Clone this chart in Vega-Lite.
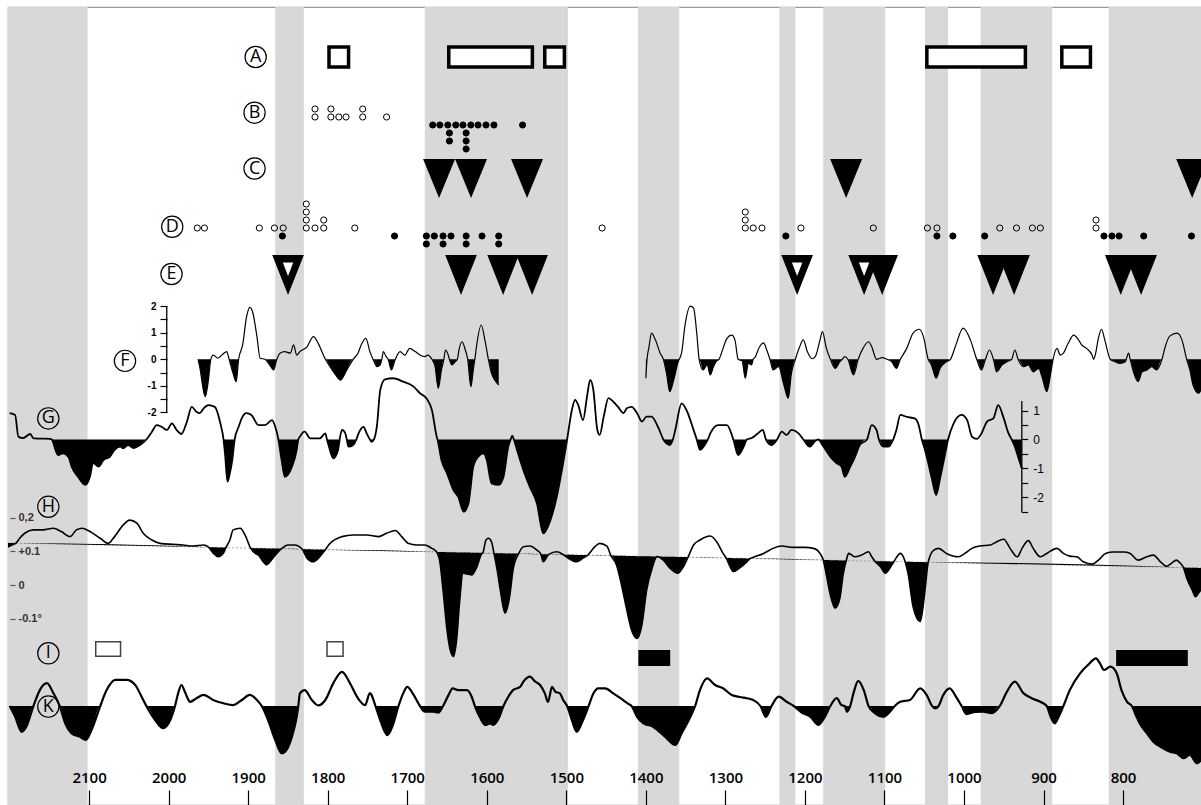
{
"$schema": "https://vega.github.io/schema/vega-lite/v6.json",
"width": 1193, "height": 798,
"autosize": {"type": "none"},
"padding": {"left": 8, "top": 7, "right": 0, "bottom": 0},
"background": "white",
"config": {"view": {"stroke": "#9a9a9a", "strokeWidth": 1.2}, "text": {"font": "Open Sans"}},
"datasets": {
"bands": [{"a":2202,"b":2102},{"a":1866,"b":1830},{"a":1678,"b":1498},{"a":1410,"b":1358},{"a":1232,"b":1212},{"a":1177,"b":1099},{"a":1049,"b":1020},{"a":979,"b":889},{"a":818,"b":702}],
"A": [{"track":"A","a":1798.4,"b":1773.8},{"track":"A","a":1647.8,"b":1542.7},{"track":"A","a":1527.1,"b":1502.4},{"track":"A","a":1046.7,"b":922.8},{"track":"A","a":877,"b":841}],
"C": [{"track":"C","yr":1660},{"track":"C","yr":1619.8},{"track":"C","yr":1549.4},{"track":"C","yr":1148.2},{"track":"C","yr":713.1}],
"E": [{"track":"E","yr":1849.9,"open":true},{"track":"E","yr":1632.4,"open":false},{"track":"E","yr":1579.5,"open":false},{"track":"E","yr":1543,"open":false},{"track":"E","yr":1209.8,"open":true},{"track":"E","yr":1125.6,"open":true},{"track":"E","yr":1102.9,"open":false},{"track":"E","yr":963.4,"open":false},{"track":"E","yr":937,"open":false},{"track":"E","yr":802.9,"open":false},{"track":"E","yr":777.3,"open":false}],
"Iopen": [{"track":"I","a":2091.7,"b":2060.5},{"track":"I","a":1800.9,"b":1780.7}],
"Ifill": [{"track":"If","a":1409.4,"b":1369.4},{"track":"If","a":808.7,"b":718.6}],
"B": [{"yr":1816,"level":0,"kind":"open"},{"yr":1816,"level":1,"kind":"open"},{"yr":1796,"level":0,"kind":"open"},{"yr":1796,"level":1,"kind":"open"},{"yr":1786,"level":0,"kind":"open"},{"yr":1777,"level":0,"kind":"open"},{"yr":1756,"level":0,"kind":"open"},{"yr":1756,"level":1,"kind":"open"},{"yr":1726,"level":0,"kind":"open"},
{"yr":1668,"level":-1,"kind":"filled"},{"yr":1659,"level":-1,"kind":"filled"},{"yr":1649,"level":-1,"kind":"filled"},{"yr":1639,"level":-1,"kind":"filled"},{"yr":1630,"level":-1,"kind":"filled"},{"yr":1620,"level":-1,"kind":"filled"},{"yr":1611,"level":-1,"kind":"filled"},{"yr":1601,"level":-1,"kind":"filled"},{"yr":1591,"level":-1,"kind":"filled"},
{"yr":1647,"level":-2,"kind":"filled"},{"yr":1647,"level":-3,"kind":"filled"},{"yr":1626,"level":-2,"kind":"filled"},{"yr":1626,"level":-3,"kind":"filled"},{"yr":1626,"level":-4,"kind":"filled"},{"yr":1555,"level":-1,"kind":"filled"}],
"D": [{"yr":1964,"level":0,"kind":"open"},{"yr":1955,"level":0,"kind":"open"},{"yr":1886,"level":0,"kind":"open"},{"yr":1867,"level":0,"kind":"open"},{"yr":1856,"level":0,"kind":"open"},{"yr":1827,"level":0,"kind":"open"},{"yr":1827,"level":1,"kind":"open"},{"yr":1827,"level":2,"kind":"open"},{"yr":1827,"level":3,"kind":"open"},{"yr":1816,"level":0,"kind":"open"},{"yr":1805,"level":0,"kind":"open"},{"yr":1805,"level":1,"kind":"open"},{"yr":1766,"level":0,"kind":"open"},{"yr":1455,"level":0,"kind":"open"},{"yr":1275,"level":0,"kind":"open"},{"yr":1275,"level":1,"kind":"open"},{"yr":1275,"level":2,"kind":"open"},{"yr":1265,"level":0,"kind":"open"},{"yr":1254,"level":0,"kind":"open"},{"yr":1205,"level":0,"kind":"open"},{"yr":1114,"level":0,"kind":"open"},{"yr":1046,"level":0,"kind":"open"},{"yr":1034,"level":0,"kind":"open"},{"yr":955,"level":0,"kind":"open"},{"yr":934,"level":0,"kind":"open"},{"yr":914,"level":0,"kind":"open"},{"yr":904,"level":0,"kind":"open"},{"yr":834,"level":0,"kind":"open"},{"yr":834,"level":1,"kind":"open"},
{"yr":1857,"level":-1,"kind":"filled"},{"yr":1716,"level":-1,"kind":"filled"},{"yr":1676,"level":-1,"kind":"filled"},{"yr":1676,"level":-2,"kind":"filled"},{"yr":1666,"level":-1,"kind":"filled"},{"yr":1655,"level":-1,"kind":"filled"},{"yr":1655,"level":-2,"kind":"filled"},{"yr":1645,"level":-1,"kind":"filled"},{"yr":1626,"level":-1,"kind":"filled"},{"yr":1626,"level":-2,"kind":"filled"},{"yr":1606,"level":-1,"kind":"filled"},{"yr":1585,"level":-1,"kind":"filled"},{"yr":1585,"level":-2,"kind":"filled"},{"yr":1224,"level":-1,"kind":"filled"},{"yr":1034,"level":-1,"kind":"filled"},{"yr":1014,"level":-1,"kind":"filled"},{"yr":974,"level":-1,"kind":"filled"},{"yr":824,"level":-1,"kind":"filled"},{"yr":814,"level":-1,"kind":"filled"},{"yr":805,"level":-1,"kind":"filled"},{"yr":774,"level":-1,"kind":"filled"},{"yr":714,"level":-1,"kind":"filled"}],
"F": [
{"seg":1,"yr":1963,"v":0},{"seg":1,"yr":1961,"v":-0.28},{"seg":1,"yr":1954,"v":-1.41},{"seg":1,"yr":1950,"v":-0.78},{"seg":1,"yr":1947,"v":0},{"seg":1,"yr":1944,"v":0.16},{"seg":1,"yr":1938,"v":0.04},{"seg":1,"yr":1932,"v":0.19},{"seg":1,"yr":1927,"v":0.29},{"seg":1,"yr":1924,"v":0},{"seg":1,"yr":1919,"v":-0.53},{"seg":1,"yr":1915,"v":-0.84},{"seg":1,"yr":1912,"v":0},{"seg":1,"yr":1907,"v":0.54},{"seg":1,"yr":1902,"v":1.6},{"seg":1,"yr":1898,"v":1.95},{"seg":1,"yr":1894,"v":1.73},{"seg":1,"yr":1889,"v":0.85},{"seg":1,"yr":1885,"v":0.04},{"seg":1,"yr":1879,"v":0},{"seg":1,"yr":1873,"v":-0.21},{"seg":1,"yr":1868,"v":-0.4},{"seg":1,"yr":1864,"v":0},{"seg":1,"yr":1860,"v":0.23},{"seg":1,"yr":1854,"v":0.29},{"seg":1,"yr":1847,"v":0.23},{"seg":1,"yr":1843,"v":0.54},{"seg":1,"yr":1839,"v":0.16},{"seg":1,"yr":1835,"v":0.29},{"seg":1,"yr":1826,"v":0.47},{"seg":1,"yr":1818,"v":0.85},{"seg":1,"yr":1812,"v":0.6},{"seg":1,"yr":1803,"v":0},{"seg":1,"yr":1797,"v":-0.28},{"seg":1,"yr":1790,"v":-0.59},{"seg":1,"yr":1784,"v":-0.78},{"seg":1,"yr":1776,"v":-0.4},{"seg":1,"yr":1768,"v":0},{"seg":1,"yr":1762,"v":0.23},{"seg":1,"yr":1757,"v":0.6},{"seg":1,"yr":1752,"v":0.79},{"seg":1,"yr":1747,"v":0.29},{"seg":1,"yr":1743,"v":0},{"seg":1,"yr":1738,"v":-0.28},{"seg":1,"yr":1734,"v":-0.21},{"seg":1,"yr":1732,"v":0},{"seg":1,"yr":1730,"v":0.29},{"seg":1,"yr":1727,"v":0.12},{"seg":1,"yr":1724,"v":0},{"seg":1,"yr":1720,"v":-0.4},{"seg":1,"yr":1715,"v":0},{"seg":1,"yr":1709,"v":0.29},{"seg":1,"yr":1703,"v":0.16},{"seg":1,"yr":1697,"v":0.41},{"seg":1,"yr":1690,"v":0.29},{"seg":1,"yr":1684,"v":0.16},{"seg":1,"yr":1678,"v":0.1},{"seg":1,"yr":1674,"v":0.16},{"seg":1,"yr":1669,"v":0},{"seg":1,"yr":1665,"v":-0.28},{"seg":1,"yr":1661,"v":-1.09},{"seg":1,"yr":1657,"v":-0.4},{"seg":1,"yr":1654,"v":0},{"seg":1,"yr":1652,"v":0.35},{"seg":1,"yr":1648.5,"v":0.16},{"seg":1,"yr":1647,"v":0},{"seg":1,"yr":1644,"v":-0.21},{"seg":1,"yr":1640,"v":-0.1},{"seg":1,"yr":1637,"v":0},{"seg":1,"yr":1635,"v":0.35},{"seg":1,"yr":1631,"v":0.66},{"seg":1,"yr":1627,"v":0.35},{"seg":1,"yr":1624,"v":0},{"seg":1,"yr":1620,"v":-1.03},{"seg":1,"yr":1617,"v":-0.4},{"seg":1,"yr":1615,"v":0},{"seg":1,"yr":1613,"v":0.47},{"seg":1,"yr":1607,"v":1.29},{"seg":1,"yr":1602,"v":0.66},{"seg":1,"yr":1598,"v":0},{"seg":1,"yr":1594,"v":-0.53},{"seg":1,"yr":1590,"v":-0.78},{"seg":1,"yr":1585,"v":-0.97},
{"seg":2,"yr":1400,"v":-0.71},{"seg":2,"yr":1398.5,"v":0},{"seg":2,"yr":1396,"v":0.47},{"seg":2,"yr":1393,"v":0.98},{"seg":2,"yr":1388,"v":0.73},{"seg":2,"yr":1382,"v":0.23},{"seg":2,"yr":1378,"v":0},{"seg":2,"yr":1374,"v":-0.53},{"seg":2,"yr":1370,"v":-1.22},{"seg":2,"yr":1365,"v":-0.78},{"seg":2,"yr":1359,"v":-0.06},{"seg":2,"yr":1358,"v":0},{"seg":2,"yr":1355,"v":0.25},{"seg":2,"yr":1351,"v":1.23},{"seg":2,"yr":1344,"v":2.0},{"seg":2,"yr":1340,"v":1.92},{"seg":2,"yr":1336,"v":0.98},{"seg":2,"yr":1333,"v":0},{"seg":2,"yr":1328,"v":-0.4},{"seg":2,"yr":1323,"v":-0.21},{"seg":2,"yr":1319,"v":-0.59},{"seg":2,"yr":1315,"v":-0.28},{"seg":2,"yr":1311,"v":-0.06},{"seg":2,"yr":1308,"v":0},{"seg":2,"yr":1305,"v":0.23},{"seg":2,"yr":1298,"v":0.79},{"seg":2,"yr":1292,"v":0.91},{"seg":2,"yr":1288,"v":0.73},{"seg":2,"yr":1284,"v":0},{"seg":2,"yr":1279,"v":-0.06},{"seg":2,"yr":1275,"v":-0.71},{"seg":2,"yr":1271,"v":-0.15},{"seg":2,"yr":1267,"v":-0.21},{"seg":2,"yr":1265,"v":0},{"seg":2,"yr":1263,"v":0.06},{"seg":2,"yr":1257,"v":0.47},{"seg":2,"yr":1252,"v":0.62},{"seg":2,"yr":1248,"v":0.35},{"seg":2,"yr":1244,"v":0},{"seg":2,"yr":1240,"v":-0.4},{"seg":2,"yr":1233,"v":-0.28},{"seg":2,"yr":1227,"v":-0.9},{"seg":2,"yr":1221,"v":-1.47},{"seg":2,"yr":1217,"v":-0.53},{"seg":2,"yr":1212,"v":0},{"seg":2,"yr":1207,"v":0.44},{"seg":2,"yr":1202,"v":0.73},{"seg":2,"yr":1197,"v":0.29},{"seg":2,"yr":1191,"v":0.02},{"seg":2,"yr":1187,"v":0.1},{"seg":2,"yr":1181,"v":0.73},{"seg":2,"yr":1178,"v":1.04},{"seg":2,"yr":1173,"v":0.41},{"seg":2,"yr":1168,"v":0},{"seg":2,"yr":1162,"v":-0.34},{"seg":2,"yr":1156,"v":-0.09},{"seg":2,"yr":1153,"v":0},{"seg":2,"yr":1150,"v":0.1},{"seg":2,"yr":1146,"v":0},{"seg":2,"yr":1139,"v":-0.59},{"seg":2,"yr":1133,"v":0},{"seg":2,"yr":1127,"v":0.41},{"seg":2,"yr":1120,"v":0.66},{"seg":2,"yr":1116,"v":0.47},{"seg":2,"yr":1110,"v":0},{"seg":2,"yr":1103,"v":0.06},{"seg":2,"yr":1097,"v":0},{"seg":2,"yr":1091,"v":-0.09},{"seg":2,"yr":1085,"v":-0.34},{"seg":2,"yr":1080,"v":0},{"seg":2,"yr":1072,"v":0.41},{"seg":2,"yr":1064,"v":0.98},{"seg":2,"yr":1056,"v":1.13},{"seg":2,"yr":1051,"v":0.85},{"seg":2,"yr":1045,"v":0},{"seg":2,"yr":1041,"v":-0.21},{"seg":2,"yr":1035,"v":-0.71},{"seg":2,"yr":1030,"v":-0.34},{"seg":2,"yr":1022,"v":-0.09},{"seg":2,"yr":1017,"v":0},{"seg":2,"yr":1011,"v":0.47},{"seg":2,"yr":1001,"v":1.17},{"seg":2,"yr":992,"v":0.73},{"seg":2,"yr":984,"v":0},{"seg":2,"yr":978,"v":-0.4},{"seg":2,"yr":973,"v":0},{"seg":2,"yr":968,"v":0.35},{"seg":2,"yr":963,"v":0},{"seg":2,"yr":959,"v":-0.47},{"seg":2,"yr":952,"v":-0.21},{"seg":2,"yr":946,"v":-0.09},{"seg":2,"yr":940,"v":0},{"seg":2,"yr":936,"v":0.35},{"seg":2,"yr":932,"v":0},{"seg":2,"yr":925,"v":-0.28},{"seg":2,"yr":919,"v":-0.21},{"seg":2,"yr":913,"v":-0.47},{"seg":2,"yr":906,"v":-0.34},{"seg":2,"yr":902,"v":-0.65},{"seg":2,"yr":896,"v":-1.22},{"seg":2,"yr":891,"v":-0.53},{"seg":2,"yr":888,"v":0},{"seg":2,"yr":883,"v":0.41},{"seg":2,"yr":879,"v":0.16},{"seg":2,"yr":875,"v":0.23},{"seg":2,"yr":869,"v":0.6},{"seg":2,"yr":862,"v":0.91},{"seg":2,"yr":856,"v":0.73},{"seg":2,"yr":852,"v":0.54},{"seg":2,"yr":846,"v":0.41},{"seg":2,"yr":839,"v":0.16},{"seg":2,"yr":837,"v":0},{"seg":2,"yr":835,"v":0.16},{"seg":2,"yr":831,"v":0.79},{"seg":2,"yr":827,"v":1.13},{"seg":2,"yr":823,"v":0.73},{"seg":2,"yr":816,"v":0},{"seg":2,"yr":810,"v":-0.09},{"seg":2,"yr":804,"v":-0.15},{"seg":2,"yr":797,"v":-0.09},{"seg":2,"yr":796,"v":0},{"seg":2,"yr":793,"v":0.23},{"seg":2,"yr":791,"v":0},{"seg":2,"yr":787,"v":-0.47},{"seg":2,"yr":781,"v":-0.84},{"seg":2,"yr":776,"v":-0.47},{"seg":2,"yr":770,"v":-0.4},{"seg":2,"yr":764,"v":-0.28},{"seg":2,"yr":758,"v":-0.4},{"seg":2,"yr":751,"v":0},{"seg":2,"yr":747,"v":0.47},{"seg":2,"yr":741,"v":0.88},{"seg":2,"yr":732,"v":0.98},{"seg":2,"yr":726,"v":0.73},{"seg":2,"yr":720,"v":0},{"seg":2,"yr":716,"v":-0.4},{"seg":2,"yr":712,"v":-0.97},{"seg":2,"yr":705,"v":-1.28},{"seg":2,"yr":702,"v":-1.15}],
"G": [{"yr":2200,"v":0.91},{"yr":2193,"v":0.85},{"yr":2189,"v":0.1},{"yr":2183,"v":0.05},{"yr":2174,"v":0.19},{"yr":2170,"v":0.04},{"yr":2160,"v":0.03},{"yr":2149,"v":0.02},{"yr":2147,"v":0},{"yr":2139,"v":-0.54},{"yr":2133,"v":-0.48},{"yr":2126,"v":-0.6},{"yr":2122,"v":-0.94},{"yr":2114,"v":-1.29},{"yr":2105,"v":-1.57},{"yr":2099,"v":-1.29},{"yr":2095,"v":-0.81},{"yr":2088,"v":-0.94},{"yr":2082,"v":-0.71},{"yr":2074,"v":-0.6},{"yr":2068,"v":-0.36},{"yr":2061,"v":-0.25},{"yr":2057,"v":-0.3},{"yr":2051,"v":-0.19},{"yr":2044,"v":-0.3},{"yr":2036,"v":-0.19},{"yr":2028,"v":0},{"yr":2021,"v":0.27},{"yr":2015,"v":0.5},{"yr":2009,"v":0.44},{"yr":2002,"v":0.33},{"yr":1996,"v":0.56},{"yr":1990,"v":0.33},{"yr":1984,"v":0.19},{"yr":1977,"v":0.62},{"yr":1971,"v":1.13},{"yr":1965,"v":0.96},{"yr":1961,"v":0.91},{"yr":1956,"v":1.08},{"yr":1950,"v":1.19},{"yr":1942,"v":1.13},{"yr":1935,"v":0.56},{"yr":1931,"v":0},{"yr":1929,"v":-0.54},{"yr":1926,"v":-1.46},{"yr":1923,"v":-1.16},{"yr":1920,"v":-0.71},{"yr":1917,"v":0},{"yr":1912,"v":0.44},{"yr":1908,"v":0.74},{"yr":1902,"v":0.91},{"yr":1896,"v":0.85},{"yr":1887,"v":0.5},{"yr":1879,"v":0.5},{"yr":1870,"v":0.67},{"yr":1866,"v":0.44},{"yr":1862,"v":0},{"yr":1858,"v":-0.71},{"yr":1854,"v":-1.29},{"yr":1845,"v":-0.94},{"yr":1839,"v":-0.36},{"yr":1837,"v":0},{"yr":1835,"v":0.1},{"yr":1829,"v":0.27},{"yr":1822,"v":0.04},{"yr":1810,"v":0.04},{"yr":1803,"v":0.21},{"yr":1801,"v":0},{"yr":1799,"v":-0.19},{"yr":1793,"v":-0.65},{"yr":1787,"v":-0.36},{"yr":1785,"v":0},{"yr":1782,"v":0.33},{"yr":1778,"v":0.22},{"yr":1776,"v":0},{"yr":1774,"v":-0.25},{"yr":1768,"v":-0.19},{"yr":1764,"v":0},{"yr":1762,"v":0.16},{"yr":1755,"v":0.44},{"yr":1751,"v":0.21},{"yr":1747,"v":0},{"yr":1745,"v":-0.08},{"yr":1742,"v":0},{"yr":1738,"v":0.5},{"yr":1734,"v":1.71},{"yr":1728,"v":2.08},{"yr":1718,"v":2.12},{"yr":1705,"v":2.0},{"yr":1692,"v":1.83},{"yr":1684,"v":1.6},{"yr":1676,"v":1.43},{"yr":1669,"v":1.02},{"yr":1663,"v":0.1},{"yr":1662,"v":0},{"yr":1657,"v":-0.71},{"yr":1650,"v":-1.17},{"yr":1642,"v":-1.75},{"yr":1636,"v":-1.98},{"yr":1629,"v":-2.5},{"yr":1623,"v":-2.21},{"yr":1617,"v":-0.94},{"yr":1611,"v":-0.6},{"yr":1604,"v":-0.48},{"yr":1600,"v":-0.71},{"yr":1594,"v":-1.52},{"yr":1585,"v":-1.57},{"yr":1579,"v":-1.29},{"yr":1573,"v":-0.25},{"yr":1570,"v":0},{"yr":1568,"v":0.13},{"yr":1566,"v":0},{"yr":1562,"v":-0.36},{"yr":1554,"v":-1.06},{"yr":1546,"v":-1.63},{"yr":1537,"v":-2.21},{"yr":1529,"v":-3.25},{"yr":1520,"v":-2.79},{"yr":1512,"v":-1.98},{"yr":1504,"v":-0.82},{"yr":1499,"v":0},{"yr":1493,"v":1.02},{"yr":1489,"v":1.37},{"yr":1485,"v":1.19},{"yr":1479,"v":0.67},{"yr":1474,"v":1.48},{"yr":1470,"v":2.06},{"yr":1466,"v":1.71},{"yr":1461,"v":0.33},{"yr":1458,"v":0.16},{"yr":1453,"v":0.79},{"yr":1447,"v":1.43},{"yr":1441,"v":1.31},{"yr":1435,"v":1.13},{"yr":1428,"v":0.91},{"yr":1424,"v":1.08},{"yr":1418,"v":1.13},{"yr":1411,"v":0.91},{"yr":1405,"v":0.62},{"yr":1399,"v":0.79},{"yr":1393,"v":0.79},{"yr":1384,"v":0.39},{"yr":1378,"v":0},{"yr":1373,"v":-0.16},{"yr":1370,"v":-0.19},{"yr":1366,"v":0},{"yr":1363,"v":0.33},{"yr":1355,"v":1.25},{"yr":1349,"v":1.02},{"yr":1340,"v":0.33},{"yr":1336,"v":0},{"yr":1332,"v":-0.36},{"yr":1326,"v":-0.19},{"yr":1322,"v":0},{"yr":1319,"v":0.21},{"yr":1309,"v":0.5},{"yr":1298,"v":0.5},{"yr":1290,"v":0},{"yr":1284,"v":-0.54},{"yr":1277,"v":-0.25},{"yr":1273,"v":0},{"yr":1267,"v":0.05},{"yr":1260,"v":0.19},{"yr":1253,"v":0.33},{"yr":1249,"v":0},{"yr":1242,"v":-0.19},{"yr":1235,"v":0},{"yr":1229,"v":0.27},{"yr":1223,"v":0.16},{"yr":1217,"v":0.33},{"yr":1208,"v":0.21},{"yr":1202,"v":0},{"yr":1194,"v":-0.25},{"yr":1187,"v":-0.05},{"yr":1183,"v":0},{"yr":1178,"v":-0.19},{"yr":1168,"v":-0.6},{"yr":1160,"v":-0.82},{"yr":1154,"v":-0.94},{"yr":1150,"v":-1.29},{"yr":1143,"v":-0.94},{"yr":1137,"v":-0.6},{"yr":1131,"v":-0.19},{"yr":1122,"v":0},{"yr":1116,"v":0.5},{"yr":1110,"v":0.33},{"yr":1107,"v":0},{"yr":1101,"v":-0.25},{"yr":1095,"v":-0.25},{"yr":1089,"v":0},{"yr":1085,"v":0.33},{"yr":1080,"v":0.85},{"yr":1072,"v":0.78},{"yr":1062,"v":0.73},{"yr":1057,"v":0.5},{"yr":1053,"v":0},{"yr":1049,"v":-0.36},{"yr":1045,"v":-0.81},{"yr":1040,"v":-1.4},{"yr":1035,"v":-1.92},{"yr":1030,"v":-1.33},{"yr":1024,"v":-0.54},{"yr":1020,"v":0},{"yr":1013,"v":0.56},{"yr":1003,"v":0.85},{"yr":996,"v":0.67},{"yr":990,"v":0.1},{"yr":984,"v":0.02},{"yr":978,"v":0.21},{"yr":971,"v":0.62},{"yr":963,"v":0.73},{"yr":957,"v":1.19},{"yr":950,"v":0.73},{"yr":944,"v":0.21},{"yr":940,"v":0},{"yr":936,"v":-0.25},{"yr":932,"v":-0.6},{"yr":927.3,"v":-1.0}],
"H": [{"yr":2202,"v":0.113,"t":0.125},{"yr":2197,"v":0.119,"t":0.1248},{"yr":2192,"v":0.1245,"t":0.1245},{"yr":2187,"v":0.14,"t":0.1243},{"yr":2181,"v":0.154,"t":0.124},{"yr":2170,"v":0.164,"t":0.1234},{"yr":2158,"v":0.164,"t":0.1228},{"yr":2145,"v":0.169,"t":0.1222},{"yr":2135,"v":0.159,"t":0.1217},{"yr":2124,"v":0.144,"t":0.1211},{"yr":2116,"v":0.164,"t":0.1207},{"yr":2109,"v":0.169,"t":0.1204},{"yr":2099,"v":0.159,"t":0.1199},{"yr":2086,"v":0.139,"t":0.1193},{"yr":2076,"v":0.124,"t":0.1188},{"yr":2068,"v":0.144,"t":0.1184},{"yr":2057,"v":0.179,"t":0.1178},{"yr":2049,"v":0.193,"t":0.1174},{"yr":2040,"v":0.184,"t":0.117},{"yr":2032,"v":0.154,"t":0.1166},{"yr":2021,"v":0.134,"t":0.116},{"yr":2011,"v":0.124,"t":0.1155},{"yr":1994,"v":0.121,"t":0.1147},{"yr":1982,"v":0.119,"t":0.1141},{"yr":1969,"v":0.116,"t":0.1135},{"yr":1956,"v":0.119,"t":0.1128},{"yr":1950,"v":0.1125,"t":0.1125},{"yr":1944,"v":0.095,"t":0.1122},{"yr":1938,"v":0.084,"t":0.1119},{"yr":1931,"v":0.095,"t":0.1116},{"yr":1928,"v":0.1114,"t":0.1114},{"yr":1923,"v":0.134,"t":0.1112},{"yr":1919,"v":0.164,"t":0.111},{"yr":1910,"v":0.169,"t":0.1105},{"yr":1904,"v":0.149,"t":0.1102},{"yr":1897,"v":0.1099,"t":0.1099},{"yr":1891,"v":0.094,"t":0.1096},{"yr":1887,"v":0.089,"t":0.1094},{"yr":1881,"v":0.069,"t":0.1091},{"yr":1877,"v":0.06,"t":0.1089},{"yr":1871,"v":0.074,"t":0.1086},{"yr":1864,"v":0.094,"t":0.1083},{"yr":1858,"v":0.108,"t":0.108},{"yr":1850,"v":0.119,"t":0.1076},{"yr":1841,"v":0.119,"t":0.1071},{"yr":1835,"v":0.113,"t":0.1068},{"yr":1832,"v":0.1067,"t":0.1067},{"yr":1826,"v":0.08,"t":0.1064},{"yr":1818,"v":0.069,"t":0.106},{"yr":1810,"v":0.084,"t":0.1056},{"yr":1803,"v":0.1052,"t":0.1052},{"yr":1797,"v":0.124,"t":0.105},{"yr":1782,"v":0.144,"t":0.1042},{"yr":1768,"v":0.149,"t":0.1035},{"yr":1751,"v":0.149,"t":0.1027},{"yr":1736,"v":0.144,"t":0.1019},{"yr":1726,"v":0.154,"t":0.1014},{"yr":1715,"v":0.162,"t":0.1009},{"yr":1707,"v":0.144,"t":0.1005},{"yr":1699,"v":0.124,"t":0.1001},{"yr":1688,"v":0.119,"t":0.0996},{"yr":1678,"v":0.119,"t":0.0991},{"yr":1669,"v":0.109,"t":0.0986},{"yr":1663,"v":0.0983,"t":0.0983},{"yr":1659,"v":0.069,"t":0.0981},{"yr":1655,"v":-0.015,"t":0.0979},{"yr":1650,"v":-0.134,"t":0.0977},{"yr":1646,"v":-0.193,"t":0.0975},{"yr":1642,"v":-0.213,"t":0.0973},{"yr":1638,"v":-0.164,"t":0.0971},{"yr":1634,"v":-0.045,"t":0.0969},{"yr":1630,"v":0.035,"t":0.0967},{"yr":1625,"v":0.033,"t":0.0964},{"yr":1619,"v":0.03,"t":0.0961},{"yr":1613,"v":0.051,"t":0.0958},{"yr":1606,"v":0.094,"t":0.0955},{"yr":1605,"v":0.0954,"t":0.0954},{"yr":1601,"v":0.134,"t":0.0952},{"yr":1598,"v":0.139,"t":0.0951},{"yr":1594,"v":0.128,"t":0.0949},{"yr":1591,"v":0.0947,"t":0.0947},{"yr":1587,"v":0.045,"t":0.0946},{"yr":1583,"v":-0.015,"t":0.0944},{"yr":1577,"v":-0.084,"t":0.0941},{"yr":1571,"v":-0.03,"t":0.0938},{"yr":1567,"v":0.045,"t":0.0936},{"yr":1560,"v":0.0932,"t":0.0932},{"yr":1554,"v":0.114,"t":0.0929},{"yr":1546,"v":0.116,"t":0.0925},{"yr":1537,"v":0.104,"t":0.0921},{"yr":1532,"v":0.0918,"t":0.0918},{"yr":1529,"v":0.069,"t":0.0917},{"yr":1522,"v":0.0913,"t":0.0913},{"yr":1512,"v":0.099,"t":0.0908},{"yr":1504,"v":0.0904,"t":0.0904},{"yr":1498,"v":0.08,"t":0.0901},{"yr":1487,"v":0.069,"t":0.0896},{"yr":1479,"v":0.08,"t":0.0892},{"yr":1473,"v":0.0889,"t":0.0889},{"yr":1464,"v":0.114,"t":0.0885},{"yr":1458,"v":0.124,"t":0.0882},{"yr":1449,"v":0.116,"t":0.0877},{"yr":1444,"v":0.0875,"t":0.0875},{"yr":1437,"v":0.06,"t":0.0871},{"yr":1432,"v":0.015,"t":0.0869},{"yr":1424,"v":-0.074,"t":0.0865},{"yr":1418,"v":-0.134,"t":0.0862},{"yr":1411,"v":-0.159,"t":0.0858},{"yr":1405,"v":-0.119,"t":0.0855},{"yr":1399,"v":-0.015,"t":0.0852},{"yr":1392,"v":0.051,"t":0.0849},{"yr":1386,"v":0.0846,"t":0.0846},{"yr":1378,"v":0.074,"t":0.0842},{"yr":1370,"v":0.051,"t":0.0838},{"yr":1360,"v":0.035,"t":0.0833},{"yr":1353,"v":0.054,"t":0.083},{"yr":1347,"v":0.0827,"t":0.0827},{"yr":1340,"v":0.119,"t":0.0823},{"yr":1332,"v":0.134,"t":0.0819},{"yr":1319,"v":0.146,"t":0.0813},{"yr":1311,"v":0.129,"t":0.0809},{"yr":1303,"v":0.094,"t":0.0805},{"yr":1299,"v":0.0803,"t":0.0803},{"yr":1294,"v":0.054,"t":0.0801},{"yr":1290,"v":0.04,"t":0.0799},{"yr":1282,"v":0.051,"t":0.0795},{"yr":1273,"v":0.069,"t":0.079},{"yr":1269,"v":0.0788,"t":0.0788},{"yr":1263,"v":0.084,"t":0.0785},{"yr":1252,"v":0.094,"t":0.078},{"yr":1248,"v":0.099,"t":0.0778},{"yr":1240,"v":0.109,"t":0.0774},{"yr":1229,"v":0.116,"t":0.0769},{"yr":1215,"v":0.112,"t":0.0762},{"yr":1200,"v":0.112,"t":0.0754},{"yr":1189,"v":0.109,"t":0.0749},{"yr":1181,"v":0.094,"t":0.0745},{"yr":1177,"v":0.0743,"t":0.0743},{"yr":1173,"v":0.03,"t":0.0741},{"yr":1168,"v":-0.03,"t":0.0738},{"yr":1162,"v":-0.069,"t":0.0735},{"yr":1156,"v":-0.039,"t":0.0732},{"yr":1152,"v":0.03,"t":0.073},{"yr":1148,"v":0.0728,"t":0.0728},{"yr":1145,"v":0.094,"t":0.0727},{"yr":1137,"v":0.084,"t":0.0723},{"yr":1129,"v":0.089,"t":0.0719},{"yr":1120,"v":0.099,"t":0.0714},{"yr":1116,"v":0.084,"t":0.0712},{"yr":1112,"v":0.071,"t":0.071},{"yr":1105,"v":0.054,"t":0.0707},{"yr":1099,"v":0.035,"t":0.0704},{"yr":1093,"v":0.051,"t":0.0701},{"yr":1088,"v":0.0699,"t":0.0699},{"yr":1080,"v":0.094,"t":0.0695},{"yr":1074,"v":0.0692,"t":0.0692},{"yr":1070,"v":0.03,"t":0.069},{"yr":1064,"v":-0.065,"t":0.0687},{"yr":1055,"v":-0.109,"t":0.0682},{"yr":1049,"v":-0.015,"t":0.0679},{"yr":1045,"v":0.0677,"t":0.0677},{"yr":1038,"v":0.104,"t":0.0674},{"yr":1032,"v":0.109,"t":0.0671},{"yr":1022,"v":0.094,"t":0.0666},{"yr":1007,"v":0.084,"t":0.0658},{"yr":999,"v":0.094,"t":0.0655},{"yr":990,"v":0.109,"t":0.065},{"yr":980,"v":0.116,"t":0.0645},{"yr":967,"v":0.119,"t":0.0639},{"yr":961,"v":0.126,"t":0.0636},{"yr":950,"v":0.136,"t":0.063},{"yr":942,"v":0.109,"t":0.0626},{"yr":933,"v":0.084,"t":0.0622},{"yr":927,"v":0.109,"t":0.0619},{"yr":919,"v":0.132,"t":0.0615},{"yr":913,"v":0.109,"t":0.0612},{"yr":904,"v":0.084,"t":0.0607},{"yr":896,"v":0.094,"t":0.0604},{"yr":883,"v":0.109,"t":0.0597},{"yr":875,"v":0.094,"t":0.0593},{"yr":867,"v":0.086,"t":0.0589},{"yr":858,"v":0.084,"t":0.0585},{"yr":850,"v":0.069,"t":0.0581},{"yr":839,"v":0.062,"t":0.0575},{"yr":831,"v":0.074,"t":0.0571},{"yr":822,"v":0.094,"t":0.0567},{"yr":812,"v":0.098,"t":0.0562},{"yr":799,"v":0.098,"t":0.0555},{"yr":791,"v":0.094,"t":0.0552},{"yr":781,"v":0.074,"t":0.0547},{"yr":770,"v":0.084,"t":0.0541},{"yr":762,"v":0.089,"t":0.0537},{"yr":753,"v":0.069,"t":0.0533},{"yr":745,"v":0.056,"t":0.0529},{"yr":739,"v":0.065,"t":0.0526},{"yr":733,"v":0.074,"t":0.0523},{"yr":728,"v":0.065,"t":0.052},{"yr":724,"v":0.0518,"t":0.0518},{"yr":720,"v":0.021,"t":0.0516},{"yr":713,"v":-0.015,"t":0.0513},{"yr":709,"v":-0.035,"t":0.0511},{"yr":705,"v":-0.024,"t":0.0509},{"yr":702,"v":-0.015,"t":0.0507}],
"K": [{"yr":2200,"v":0},{"yr":2193,"v":-0.36},{"yr":2185,"v":-0.86},{"yr":2179,"v":-0.69},{"yr":2170,"v":0},{"yr":2162,"v":0.53},{"yr":2153,"v":0.76},{"yr":2145,"v":0.43},{"yr":2137,"v":0},{"yr":2130,"v":-0.58},{"yr":2122,"v":-0.91},{"yr":2112,"v":-1.02},{"yr":2104,"v":-1.13},{"yr":2097,"v":-0.8},{"yr":2086,"v":0},{"yr":2078,"v":0.53},{"yr":2067,"v":0.87},{"yr":2053,"v":0.87},{"yr":2042,"v":0.7},{"yr":2034,"v":0.31},{"yr":2028,"v":0},{"yr":2017,"v":-0.47},{"yr":2007,"v":-0.74},{"yr":1998,"v":-0.47},{"yr":1992,"v":0},{"yr":1988,"v":0.43},{"yr":1984,"v":0.7},{"yr":1979,"v":0.43},{"yr":1973,"v":0.14},{"yr":1965,"v":0.26},{"yr":1956,"v":0.37},{"yr":1944,"v":0.2},{"yr":1931,"v":0.09},{"yr":1919,"v":0.03},{"yr":1908,"v":0.2},{"yr":1898,"v":0.37},{"yr":1889,"v":0.2},{"yr":1883,"v":0},{"yr":1875,"v":-0.47},{"yr":1866,"v":-1.13},{"yr":1858,"v":-1.58},{"yr":1852,"v":-1.47},{"yr":1845,"v":-1.02},{"yr":1839,"v":-0.36},{"yr":1837,"v":0},{"yr":1835,"v":0.42},{"yr":1829,"v":0.53},{"yr":1820,"v":0.2},{"yr":1812,"v":0.02},{"yr":1803,"v":0.2},{"yr":1793,"v":0.76},{"yr":1782,"v":1.14},{"yr":1772,"v":0.76},{"yr":1762,"v":0.26},{"yr":1753,"v":0.03},{"yr":1747,"v":0.43},{"yr":1745,"v":0.37},{"yr":1740,"v":0},{"yr":1734,"v":-0.47},{"yr":1725,"v":-0.97},{"yr":1718,"v":-0.63},{"yr":1711,"v":0},{"yr":1705,"v":0.43},{"yr":1700,"v":0.64},{"yr":1692,"v":0.37},{"yr":1684,"v":0},{"yr":1678,"v":-0.19},{"yr":1667,"v":-0.19},{"yr":1661,"v":-0.22},{"yr":1655,"v":0},{"yr":1648,"v":0.37},{"yr":1643,"v":0.59},{"yr":1636,"v":0.53},{"yr":1625,"v":0.53},{"yr":1619,"v":0.31},{"yr":1615,"v":0},{"yr":1608,"v":-0.41},{"yr":1602,"v":-0.63},{"yr":1596,"v":-0.58},{"yr":1592,"v":-0.63},{"yr":1585,"v":-0.41},{"yr":1579,"v":0},{"yr":1573,"v":0.31},{"yr":1567,"v":0.53},{"yr":1558,"v":0.64},{"yr":1554,"v":0.81},{"yr":1546,"v":0.98},{"yr":1539,"v":0.81},{"yr":1533,"v":0.7},{"yr":1527,"v":0.42},{"yr":1523,"v":0.14},{"yr":1518,"v":0.64},{"yr":1514,"v":0.48},{"yr":1508,"v":0.42},{"yr":1504,"v":0.2},{"yr":1499,"v":0},{"yr":1493,"v":-0.47},{"yr":1487,"v":-0.86},{"yr":1479,"v":-0.47},{"yr":1472,"v":0},{"yr":1466,"v":0.42},{"yr":1460,"v":0.59},{"yr":1451,"v":0.59},{"yr":1441,"v":0.42},{"yr":1432,"v":0.26},{"yr":1422,"v":0.07},{"yr":1418,"v":0},{"yr":1411,"v":-0.36},{"yr":1403,"v":-0.58},{"yr":1391,"v":-0.69},{"yr":1376,"v":-1.02},{"yr":1363,"v":-1.3},{"yr":1355,"v":-0.91},{"yr":1344,"v":-0.36},{"yr":1338,"v":0},{"yr":1332,"v":0.53},{"yr":1323,"v":0.92},{"yr":1313,"v":0.7},{"yr":1303,"v":0.59},{"yr":1292,"v":0.37},{"yr":1282,"v":0.3},{"yr":1273,"v":0.26},{"yr":1265,"v":0.2},{"yr":1256,"v":0},{"yr":1249,"v":-0.36},{"yr":1242,"v":0},{"yr":1233,"v":0.31},{"yr":1223,"v":0.14},{"yr":1214,"v":0},{"yr":1204,"v":-0.22},{"yr":1193,"v":-0.36},{"yr":1183,"v":-0.63},{"yr":1175,"v":-0.36},{"yr":1168,"v":0},{"yr":1160,"v":0.26},{"yr":1154,"v":0.03},{"yr":1150,"v":0},{"yr":1147,"v":-0.19},{"yr":1143,"v":0},{"yr":1139,"v":0.42},{"yr":1133,"v":0.84},{"yr":1126,"v":0.53},{"yr":1120,"v":0},{"yr":1112,"v":-0.24},{"yr":1101,"v":-0.36},{"yr":1093,"v":-0.19},{"yr":1087,"v":0},{"yr":1080,"v":0.14},{"yr":1068,"v":0.2},{"yr":1055,"v":0.59},{"yr":1047,"v":0.37},{"yr":1040,"v":0},{"yr":1036,"v":-0.08},{"yr":1032,"v":0},{"yr":1026,"v":0.37},{"yr":1018,"v":0.59},{"yr":1009,"v":0.26},{"yr":1003,"v":0},{"yr":997,"v":-0.27},{"yr":986,"v":-0.2},{"yr":976,"v":-0.19},{"yr":965,"v":-0.24},{"yr":955,"v":0},{"yr":946,"v":0.48},{"yr":936,"v":0.81},{"yr":925,"v":0.42},{"yr":915,"v":0.26},{"yr":904,"v":0.14},{"yr":896,"v":0},{"yr":891,"v":-0.36},{"yr":886,"v":-0.58},{"yr":881,"v":-0.36},{"yr":875,"v":0},{"yr":867,"v":0.53},{"yr":854,"v":1.09},{"yr":844,"v":1.37},{"yr":834,"v":1.59},{"yr":829,"v":1.42},{"yr":824,"v":1.2},{"yr":816,"v":1.31},{"yr":808,"v":1.09},{"yr":802,"v":0.53},{"yr":795,"v":0.14},{"yr":789,"v":0},{"yr":783,"v":-0.36},{"yr":779,"v":-0.58},{"yr":770,"v":-0.91},{"yr":762,"v":-1.19},{"yr":753,"v":-1.36},{"yr":741,"v":-1.52},{"yr":732,"v":-1.58},{"yr":724,"v":-1.74},{"yr":716,"v":-1.63},{"yr":707,"v":-1.91},{"yr":702,"v":-1.8}]
},
"resolve": {"scale": {"y": "independent"}, "axis": {"y": "independent"}},
"layer": [
{"data": {"name": "bands"}, "mark": {"type": "rect", "color": "#d8d8d8"},
 "encoding": {
  "x": {"field": "a", "type": "quantitative", "scale": {"domain": [702, 2202], "reverse": true, "nice": false, "zero": false},
        "axis": {"orient": "bottom", "offset": -15, "values": [800,900,1000,1100,1200,1300,1400,1500,1600,1700,1800,1900,2000,2100], "format": "d", "tickSize": 15, "tickColor": "black", "tickWidth": 1.2, "domain": false, "grid": false, "title": null, "zindex": 1, "labelPadding": -28, "labelBaseline": "middle", "labelFont": "Open Sans", "labelFontSize": 15, "labelFontWeight": 600, "labelColor": "black"}},
  "x2": {"field": "b"}}},
{"data": {"name": "F"},
 "layer": [
  {"transform": [{"filter": "datum.v <= 0"}], "mark": {"type": "area", "color": "black", "interpolate": "monotone", "clip": true},
   "encoding": {"x": {"field": "yr", "type": "quantitative", "scale": {"domain": [702, 2202], "reverse": true, "nice": false, "zero": false}},
    "y": {"field": "v", "type": "quantitative", "scale": {"domain": [-16.756, 13.244], "nice": false, "zero": false}},
    "y2": {"datum": 0}, "detail": {"field": "seg"}}},
  {"mark": {"type": "line", "color": "black", "strokeWidth": 1.2, "interpolate": "monotone", "clip": true},
   "encoding": {"x": {"field": "yr", "type": "quantitative", "scale": {"domain": [702, 2202], "reverse": true, "nice": false, "zero": false}},
    "y": {"field": "v", "type": "quantitative", "scale": {"domain": [-16.756, 13.244], "nice": false, "zero": false},
          "axis": {"orient": "left", "offset": -159, "values": [-2,-1.5,-1,-0.5,0,0.5,1,1.5,2], "domain": false, "grid": false, "title": null, "zindex": 1, "tickColor": "black", "tickWidth": 1.2, "tickSize": 7, "labelExpr": "datum.value % 1 === 0 ? (datum.value < 0 ? '-' + abs(datum.value) : '' + datum.value) : ''", "labelFont": "Liberation Sans", "labelFontSize": 10, "labelFontWeight": "bold", "labelColor": "black", "labelPadding": 4}},
    "detail": {"field": "seg"}}},
  {"data": {"values": [{}]}, "mark": {"type": "rule", "color": "black", "strokeWidth": 1.3},
   "encoding": {"x": {"datum": 2002.4, "type": "quantitative", "scale": {"domain": [702, 2202], "reverse": true, "nice": false, "zero": false}},
    "y": {"datum": -2, "type": "quantitative", "scale": {"domain": [-16.756, 13.244], "nice": false, "zero": false}}, "y2": {"datum": 2}}},
  {"data": {"values": [{}]}, "mark": {"type": "point", "shape": "circle", "size": 452, "filled": false, "stroke": "black", "strokeWidth": 1.2, "opacity": 1},
   "encoding": {"x": {"datum": 2054.9, "type": "quantitative", "scale": {"domain": [702, 2202], "reverse": true, "nice": false, "zero": false}},
    "y": {"datum": -0.06, "type": "quantitative", "scale": {"domain": [-16.756, 13.244], "nice": false, "zero": false}}}},
  {"data": {"values": [{}]}, "mark": {"type": "text", "text": "F", "fontSize": 18, "font": "Open Sans", "color": "black", "align": "center", "baseline": "middle"},
   "encoding": {"x": {"datum": 2054.9, "type": "quantitative", "scale": {"domain": [702, 2202], "reverse": true, "nice": false, "zero": false}},
    "y": {"datum": -0.06, "type": "quantitative", "scale": {"domain": [-16.756, 13.244], "nice": false, "zero": false}}}}
 ]},
{"data": {"name": "G"},
 "layer": [
  {"transform": [{"filter": "datum.v <= 0"}], "mark": {"type": "area", "color": "black", "interpolate": "monotone", "clip": true},
   "encoding": {"x": {"field": "yr", "type": "quantitative", "scale": {"domain": [702, 2202], "reverse": true, "nice": false, "zero": false}},
    "y": {"field": "v", "type": "quantitative", "scale": {"domain": [-12.647, 14.965], "nice": false, "zero": false}},
    "y2": {"datum": 0}}},
  {"mark": {"type": "line", "color": "black", "strokeWidth": 1.8, "interpolate": "monotone", "clip": true},
   "encoding": {"x": {"field": "yr", "type": "quantitative", "scale": {"domain": [702, 2202], "reverse": true, "nice": false, "zero": false}},
    "y": {"field": "v", "type": "quantitative", "scale": {"domain": [-12.647, 14.965], "nice": false, "zero": false},
          "axis": {"orient": "right", "offset": -179.3, "values": [-2.5,-2,-1.5,-1,-0.5,0,0.5,1], "domain": false, "grid": false, "title": null, "zindex": 1, "tickColor": "black", "tickWidth": 1.2, "tickSize": 6, "labelExpr": "datum.value % 1 === 0 ? (datum.value < 0 ? '-' + abs(datum.value) : '' + datum.value) : ''", "labelFont": "Liberation Sans", "labelFontSize": 12, "labelColor": "black", "labelPadding": 5}}}},
  {"data": {"values": [{}]}, "mark": {"type": "rule", "color": "black", "strokeWidth": 1.3},
   "encoding": {"x": {"datum": 927.3, "type": "quantitative", "scale": {"domain": [702, 2202], "reverse": true, "nice": false, "zero": false}},
    "y": {"datum": -2.53, "type": "quantitative", "scale": {"domain": [-12.647, 14.965], "nice": false, "zero": false}}, "y2": {"datum": 1.33}}},
  {"data": {"values": [{}]}, "mark": {"type": "point", "shape": "circle", "size": 452, "filled": false, "stroke": "black", "strokeWidth": 1.2, "opacity": 1},
   "encoding": {"x": {"datum": 2151.3, "type": "quantitative", "scale": {"domain": [702, 2202], "reverse": true, "nice": false, "zero": false}},
    "y": {"datum": 0.73, "type": "quantitative", "scale": {"domain": [-12.647, 14.965], "nice": false, "zero": false}}}},
  {"data": {"values": [{}]}, "mark": {"type": "text", "text": "G", "fontSize": 18, "font": "Open Sans", "color": "black", "align": "center", "baseline": "middle"},
   "encoding": {"x": {"datum": 2151.3, "type": "quantitative", "scale": {"domain": [702, 2202], "reverse": true, "nice": false, "zero": false}},
    "y": {"datum": 0.73, "type": "quantitative", "scale": {"domain": [-12.647, 14.965], "nice": false, "zero": false}}}}
 ]},
{"data": {"name": "H"},
 "layer": [
  {"mark": {"type": "line", "color": "#a0a0a0", "strokeWidth": 1, "strokeDash": [2, 2], "clip": true},
   "encoding": {"x": {"field": "yr", "type": "quantitative", "scale": {"domain": [702, 2202], "reverse": true, "nice": false, "zero": false}},
    "y": {"field": "t", "type": "quantitative", "scale": {"domain": [-0.65476, 1.72024], "nice": false, "zero": false}}}},
  {"transform": [{"filter": "datum.v <= datum.t"}], "mark": {"type": "area", "color": "black", "interpolate": "monotone", "clip": true},
   "encoding": {"x": {"field": "yr", "type": "quantitative", "scale": {"domain": [702, 2202], "reverse": true, "nice": false, "zero": false}},
    "y": {"field": "v", "type": "quantitative", "scale": {"domain": [-0.65476, 1.72024], "nice": false, "zero": false}},
    "y2": {"field": "t"}}},
  {"mark": {"type": "line", "color": "black", "strokeWidth": 1.6, "interpolate": "monotone", "clip": true},
   "encoding": {"x": {"field": "yr", "type": "quantitative", "scale": {"domain": [702, 2202], "reverse": true, "nice": false, "zero": false}},
    "y": {"field": "v", "type": "quantitative", "scale": {"domain": [-0.65476, 1.72024], "nice": false, "zero": false},
          "axis": {"orient": "right", "offset": -1191, "values": [-0.1, 0, 0.1, 0.2], "domain": false, "grid": false, "title": null, "zindex": 1, "tickColor": "#555", "tickWidth": 1.2, "tickSize": 5, "labelExpr": "datum.value > 0.15 ? '0,2' : datum.value > 0.05 ? '+0.1' : datum.value > -0.05 ? '0' : '-0.1°'", "labelFont": "Liberation Sans", "labelFontSize": 11, "labelFontWeight": "bold", "labelColor": "#333", "labelPadding": 3}}}},
  {"data": {"values": [{}]}, "mark": {"type": "point", "shape": "circle", "size": 452, "filled": false, "stroke": "black", "strokeWidth": 1.2, "opacity": 1},
   "encoding": {"x": {"datum": 2151.3, "type": "quantitative", "scale": {"domain": [702, 2202], "reverse": true, "nice": false, "zero": false}},
    "y": {"datum": 0.233, "type": "quantitative", "scale": {"domain": [-0.65476, 1.72024], "nice": false, "zero": false}}}},
  {"data": {"values": [{}]}, "mark": {"type": "text", "text": "H", "fontSize": 18, "font": "Open Sans", "color": "black", "align": "center", "baseline": "middle"},
   "encoding": {"x": {"datum": 2151.3, "type": "quantitative", "scale": {"domain": [702, 2202], "reverse": true, "nice": false, "zero": false}},
    "y": {"datum": 0.233, "type": "quantitative", "scale": {"domain": [-0.65476, 1.72024], "nice": false, "zero": false}}}}
 ]},
{"data": {"name": "K"},
 "layer": [
  {"transform": [{"filter": "datum.v <= 0"}], "mark": {"type": "area", "color": "black", "interpolate": "monotone", "clip": true},
   "encoding": {"x": {"field": "yr", "type": "quantitative", "scale": {"domain": [702, 2202], "reverse": true, "nice": false, "zero": false}},
    "y": {"field": "v", "type": "quantitative", "scale": {"domain": [-3.3, 23.3], "nice": false, "zero": false}, "axis": null},
    "y2": {"datum": 0}}},
  {"mark": {"type": "line", "color": "black", "strokeWidth": 2.2, "interpolate": "monotone", "clip": true},
   "encoding": {"x": {"field": "yr", "type": "quantitative", "scale": {"domain": [702, 2202], "reverse": true, "nice": false, "zero": false}},
    "y": {"field": "v", "type": "quantitative", "scale": {"domain": [-3.3, 23.3], "nice": false, "zero": false}, "axis": null}}},
  {"data": {"values": [{}]}, "mark": {"type": "point", "shape": "circle", "size": 452, "filled": false, "stroke": "black", "strokeWidth": 1.2, "opacity": 1},
   "encoding": {"x": {"datum": 2151.3, "type": "quantitative", "scale": {"domain": [702, 2202], "reverse": true, "nice": false, "zero": false}},
    "y": {"datum": -0.02, "type": "quantitative", "scale": {"domain": [-3.3, 23.3], "nice": false, "zero": false}, "axis": null}}},
  {"data": {"values": [{}]}, "mark": {"type": "text", "text": "K", "fontSize": 18, "font": "Open Sans", "color": "black", "align": "center", "baseline": "middle"},
   "encoding": {"x": {"datum": 2151.3, "type": "quantitative", "scale": {"domain": [702, 2202], "reverse": true, "nice": false, "zero": false}},
    "y": {"datum": -0.02, "type": "quantitative", "scale": {"domain": [-3.3, 23.3], "nice": false, "zero": false}, "axis": null}}}
 ]},
{"data": {"name": "B"},
 "layer": [
  {"mark": {"type": "point", "shape": "circle", "size": 38, "filled": true, "stroke": "black", "strokeWidth": 1, "opacity": 1},
   "encoding": {"x": {"field": "yr", "type": "quantitative", "scale": {"domain": [702, 2202], "reverse": true, "nice": false, "zero": false}},
    "y": {"field": "level", "type": "quantitative", "scale": {"domain": [-86, 13.75], "nice": false, "zero": false}, "axis": null},
    "fill": {"field": "kind", "type": "nominal", "scale": {"domain": ["open", "filled"], "range": ["transparent", "black"]}, "legend": null}}},
  {"data": {"values": [{}]}, "mark": {"type": "point", "shape": "circle", "size": 452, "filled": false, "stroke": "black", "strokeWidth": 1.2, "opacity": 1},
   "encoding": {"x": {"datum": 1892, "type": "quantitative", "scale": {"domain": [702, 2202], "reverse": true, "nice": false, "zero": false}},
    "y": {"datum": 0.54, "type": "quantitative", "scale": {"domain": [-86, 13.75], "nice": false, "zero": false}, "axis": null}}},
  {"data": {"values": [{}]}, "mark": {"type": "text", "text": "B", "fontSize": 18, "font": "Open Sans", "color": "black", "align": "center", "baseline": "middle"},
   "encoding": {"x": {"datum": 1892, "type": "quantitative", "scale": {"domain": [702, 2202], "reverse": true, "nice": false, "zero": false}},
    "y": {"datum": 0.54, "type": "quantitative", "scale": {"domain": [-86, 13.75], "nice": false, "zero": false}, "axis": null}}}
 ]},
{"data": {"name": "D"},
 "layer": [
  {"mark": {"type": "point", "shape": "circle", "size": 38, "filled": true, "stroke": "black", "strokeWidth": 1, "opacity": 1},
   "encoding": {"x": {"field": "yr", "type": "quantitative", "scale": {"domain": [702, 2202], "reverse": true, "nice": false, "zero": false}},
    "y": {"field": "level", "type": "quantitative", "scale": {"domain": [-72.125, 27.625], "nice": false, "zero": false}, "axis": null},
    "fill": {"field": "kind", "type": "nominal", "scale": {"domain": ["open", "filled"], "range": ["transparent", "black"]}, "legend": null}}},
  {"data": {"values": [{}]}, "mark": {"type": "point", "shape": "circle", "size": 452, "filled": false, "stroke": "black", "strokeWidth": 1.2, "opacity": 1},
   "encoding": {"x": {"datum": 1995.5, "type": "quantitative", "scale": {"domain": [702, 2202], "reverse": true, "nice": false, "zero": false}},
    "y": {"datum": 0.16, "type": "quantitative", "scale": {"domain": [-72.125, 27.625], "nice": false, "zero": false}, "axis": null}}},
  {"data": {"values": [{}]}, "mark": {"type": "text", "text": "D", "fontSize": 18, "font": "Open Sans", "color": "black", "align": "center", "baseline": "middle"},
   "encoding": {"x": {"datum": 1995.5, "type": "quantitative", "scale": {"domain": [702, 2202], "reverse": true, "nice": false, "zero": false}},
    "y": {"datum": 0.16, "type": "quantitative", "scale": {"domain": [-72.125, 27.625], "nice": false, "zero": false}, "axis": null}}}
 ]},
{"data": {"name": "A"},
 "layer": [
  {"mark": {"type": "rect", "fill": "white", "stroke": "black", "strokeWidth": 3.5},
   "encoding": {"x": {"field": "a", "type": "quantitative", "scale": {"domain": [702, 2202], "reverse": true, "nice": false, "zero": false}},
    "x2": {"field": "b"},
    "y": {"field": "track", "type": "nominal", "scale": {"domain": ["A"], "range": [40, 60], "paddingInner": 0, "paddingOuter": 0}, "axis": null}}},
  {"data": {"values": [{}]}, "mark": {"type": "point", "shape": "circle", "size": 452, "filled": false, "stroke": "black", "strokeWidth": 1.2, "opacity": 1},
   "encoding": {"x": {"datum": 1890.6, "type": "quantitative", "scale": {"domain": [702, 2202], "reverse": true, "nice": false, "zero": false}},
    "y": {"datum": "A", "type": "nominal", "scale": {"domain": ["A"], "range": [40, 60], "paddingInner": 0, "paddingOuter": 0}, "axis": null}}},
  {"data": {"values": [{}]}, "mark": {"type": "text", "text": "A", "fontSize": 18, "font": "Open Sans", "color": "black", "align": "center", "baseline": "middle"},
   "encoding": {"x": {"datum": 1890.6, "type": "quantitative", "scale": {"domain": [702, 2202], "reverse": true, "nice": false, "zero": false}},
    "y": {"datum": "A", "type": "nominal", "scale": {"domain": ["A"], "range": [40, 60], "paddingInner": 0, "paddingOuter": 0}, "axis": null}}}
 ]},
{"data": {"name": "C"},
 "layer": [
  {"mark": {"type": "point", "shape": "M-0.82,-1L0.82,-1L0,1Z", "size": 1521, "filled": true, "color": "black", "opacity": 1},
   "encoding": {"x": {"field": "yr", "type": "quantitative", "scale": {"domain": [702, 2202], "reverse": true, "nice": false, "zero": false}},
    "y": {"field": "track", "type": "nominal", "scale": {"domain": ["C"], "range": [166.5, 176.5], "paddingInner": 0, "paddingOuter": 0}, "axis": null}}},
  {"data": {"values": [{}]}, "mark": {"type": "point", "shape": "circle", "size": 452, "filled": false, "stroke": "black", "strokeWidth": 1.2, "opacity": 1, "yOffset": -10},
   "encoding": {"x": {"datum": 1892, "type": "quantitative", "scale": {"domain": [702, 2202], "reverse": true, "nice": false, "zero": false}},
    "y": {"datum": "C", "type": "nominal", "scale": {"domain": ["C"], "range": [166.5, 176.5], "paddingInner": 0, "paddingOuter": 0}, "axis": null}}},
  {"data": {"values": [{}]}, "mark": {"type": "text", "text": "C", "fontSize": 18, "font": "Open Sans", "color": "black", "align": "center", "baseline": "middle", "yOffset": -10},
   "encoding": {"x": {"datum": 1892, "type": "quantitative", "scale": {"domain": [702, 2202], "reverse": true, "nice": false, "zero": false}},
    "y": {"datum": "C", "type": "nominal", "scale": {"domain": ["C"], "range": [166.5, 176.5], "paddingInner": 0, "paddingOuter": 0}, "axis": null}}}
 ]},
{"data": {"name": "E"},
 "layer": [
  {"mark": {"type": "point", "shape": "M-0.79,-1L0.79,-1L0,1Z", "size": 1600, "filled": true, "color": "black", "opacity": 1},
   "encoding": {"x": {"field": "yr", "type": "quantitative", "scale": {"domain": [702, 2202], "reverse": true, "nice": false, "zero": false}},
    "y": {"field": "track", "type": "nominal", "scale": {"domain": ["E"], "range": [263, 273], "paddingInner": 0, "paddingOuter": 0}, "axis": null}}},
  {"transform": [{"filter": "datum.open"}], "mark": {"type": "point", "shape": "M-0.26,-0.62L0.26,-0.62L0,0.05Z", "size": 1600, "filled": true, "color": "white", "opacity": 1},
   "encoding": {"x": {"field": "yr", "type": "quantitative", "scale": {"domain": [702, 2202], "reverse": true, "nice": false, "zero": false}},
    "y": {"field": "track", "type": "nominal", "scale": {"domain": ["E"], "range": [263, 273], "paddingInner": 0, "paddingOuter": 0}, "axis": null}}},
  {"data": {"values": [{}]}, "mark": {"type": "point", "shape": "circle", "size": 452, "filled": false, "stroke": "black", "strokeWidth": 1.2, "opacity": 1, "yOffset": -1},
   "encoding": {"x": {"datum": 1996.4, "type": "quantitative", "scale": {"domain": [702, 2202], "reverse": true, "nice": false, "zero": false}},
    "y": {"datum": "E", "type": "nominal", "scale": {"domain": ["E"], "range": [263, 273], "paddingInner": 0, "paddingOuter": 0}, "axis": null}}},
  {"data": {"values": [{}]}, "mark": {"type": "text", "text": "E", "fontSize": 18, "font": "Open Sans", "color": "black", "align": "center", "baseline": "middle", "yOffset": -1},
   "encoding": {"x": {"datum": 1996.4, "type": "quantitative", "scale": {"domain": [702, 2202], "reverse": true, "nice": false, "zero": false}},
    "y": {"datum": "E", "type": "nominal", "scale": {"domain": ["E"], "range": [263, 273], "paddingInner": 0, "paddingOuter": 0}, "axis": null}}}
 ]},
{"data": {"name": "Iopen"},
 "layer": [
  {"mark": {"type": "rect", "fill": "white", "stroke": "#444", "strokeWidth": 1.5},
   "encoding": {"x": {"field": "a", "type": "quantitative", "scale": {"domain": [702, 2202], "reverse": true, "nice": false, "zero": false}},
    "x2": {"field": "b"},
    "y": {"field": "track", "type": "nominal", "scale": {"domain": ["I"], "range": [634.75, 649.25], "paddingInner": 0, "paddingOuter": 0}, "axis": null}}},
  {"data": {"values": [{}]}, "mark": {"type": "point", "shape": "circle", "size": 452, "filled": false, "stroke": "black", "strokeWidth": 1.2, "opacity": 1, "yOffset": 4.3},
   "encoding": {"x": {"datum": 2151.3, "type": "quantitative", "scale": {"domain": [702, 2202], "reverse": true, "nice": false, "zero": false}},
    "y": {"datum": "I", "type": "nominal", "scale": {"domain": ["I"], "range": [634.75, 649.25], "paddingInner": 0, "paddingOuter": 0}, "axis": null}}},
  {"data": {"values": [{}]}, "mark": {"type": "text", "text": "I", "fontSize": 18, "font": "Open Sans", "color": "black", "align": "center", "baseline": "middle", "yOffset": 4.3},
   "encoding": {"x": {"datum": 2151.3, "type": "quantitative", "scale": {"domain": [702, 2202], "reverse": true, "nice": false, "zero": false}},
    "y": {"datum": "I", "type": "nominal", "scale": {"domain": ["I"], "range": [634.75, 649.25], "paddingInner": 0, "paddingOuter": 0}, "axis": null}}}
 ]},
{"data": {"name": "Ifill"}, "mark": {"type": "rect", "color": "black"},
 "encoding": {"x": {"field": "a", "type": "quantitative", "scale": {"domain": [702, 2202], "reverse": true, "nice": false, "zero": false}},
  "x2": {"field": "b"},
  "y": {"field": "track", "type": "nominal", "scale": {"domain": ["If"], "range": [643, 659], "paddingInner": 0, "paddingOuter": 0}, "axis": null}}}
]
}
